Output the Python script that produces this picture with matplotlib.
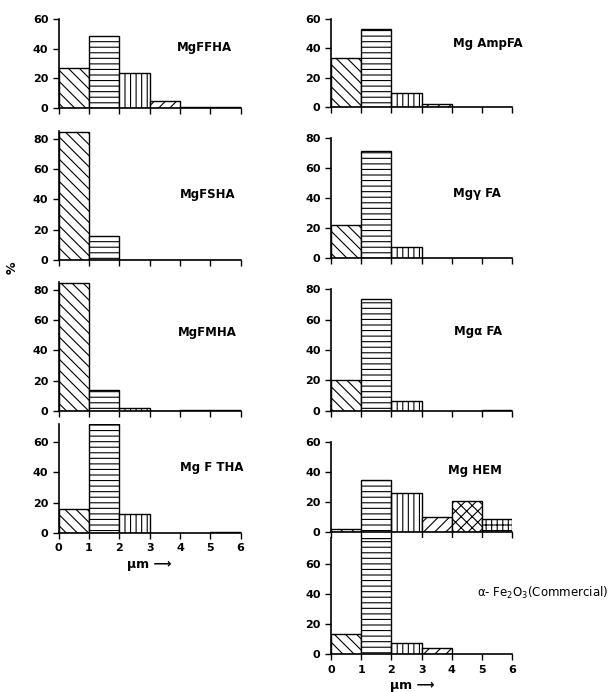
import numpy as np
import matplotlib
matplotlib.use("Agg")
from matplotlib import pyplot as plt

plt.rcParams['font.family'] = ['DejaVu Sans']
plt.rcParams['hatch.linewidth'] = 0.8

# size classes (um), left edge of each 1-um bin
bins = [0, 1, 2, 3, 4, 5]

# % of particles in each bin
mgffha = [27, 48.5, 23.5, 5, 0.4, 0.4]
mgfsha = [84.5, 16, 0.3, 0.3, 0.3, 0.3]
mgfmha = [84.5, 14, 2.2, 0.3, 0.4, 0.4]
mgftha = [16, 72, 12.3, 0, 0, 0.3]
mgampfa = [33.5, 53.5, 9.7, 2.6, 0, 0]
mggfa = [22, 71.5, 7.3, 0, 0.3, 0]
mgafa = [20.5, 73.8, 6.6, 0, 0, 0.5]
mghem = [2, 34.8, 26.2, 10.4, 20.9, 8.9]
fe2o3 = [13.6, 77, 7.6, 4.3, 0, 0]

hatches = ['\\\\\\', '---', '|||', '///', 'xxx', '+++']

# name, values, ylim top, yticks, label position, axes rect
panels = [
    ("MgFFHA", mgffha, 60, [0, 20, 40, 60], (4.82, 40.5), [0.0965, 0.8439, 0.2993, 0.1286]),
    ("MgFSHA", mgfsha, 85, [0, 20, 40, 60, 80], (4.9, 43), [0.0965, 0.6243, 0.2993, 0.1858]),
    ("MgFMHA", mgfmha, 85, [0, 20, 40, 60, 80], (4.9, 52), [0.0965, 0.4061, 0.2993, 0.1858]),
    ("Mg F THA", mgftha, 72, [0, 20, 40, 60], (5.05, 43), [0.0965, 0.2302, 0.2993, 0.1566]),
    ("Mg AmpFA", mgampfa, 60, [0, 20, 40, 60], (5.2, 43.7), [0.5444, 0.8449, 0.2982, 0.1276]),
    ("Mg\u03b3 FA", mggfa, 80, [0, 20, 40, 60, 80], (4.83, 43.5), [0.5444, 0.6267, 0.2982, 0.1734]),
    ("Mg\u03b1 FA", mgafa, 80, [0, 20, 40, 60, 80], (4.87, 52.5), [0.5444, 0.4065, 0.2982, 0.1754]),
    ("Mg HEM", mghem, 60, [0, 20, 40, 60], (4.77, 40.9), [0.5444, 0.2308, 0.2982, 0.1301]),
    (None, fe2o3, 77, [0, 20, 40, 60], (4.83, 40.6), [0.5444, 0.0545, 0.2982, 0.168]),
]

fig = plt.figure(figsize=(6.08, 6.92), dpi=100)

for i, (name, vals, ytop, yt, pos, rect) in enumerate(panels):
    ax = fig.add_axes(rect)
    for b, v, h in zip(bins, vals, hatches):
        if v > 0:
            ax.bar(b, v, width=1, align='edge', color='white', edgecolor='black',
                   linewidth=1.0, hatch=h)
    ax.set_xlim(0, 6)
    ax.set_ylim(0, ytop)
    ax.set_yticks(yt)
    ax.set_xticks(range(7))
    ax.spines['top'].set_visible(False)
    ax.spines['right'].set_visible(False)
    ax.spines['left'].set_linewidth(1.2)
    ax.spines['bottom'].set_linewidth(1.2)
    ax.tick_params(axis='both', direction='out', length=4, width=1, labelsize=8)
    for lab in ax.get_yticklabels():
        lab.set_fontweight('bold')
    if i in (3, 8):
        ax.set_xticklabels([str(k) for k in range(7)], fontweight='bold')
        ax.text(3.0 if i == 3 else 2.7, -21, "\u03bcm \u27f6",
                ha='center', va='center', fontsize=9, fontweight='bold')
    else:
        ax.set_xticklabels([])
    if name is not None:
        ax.text(pos[0], pos[1], name, ha='center', va='center', fontsize=8.5,
                fontweight='bold')
    else:
        ax.text(pos[0], pos[1], '\u03b1- Fe$_2$O$_3$(Commercial)', ha='left',
                va='center', fontsize=8.5, clip_on=False)

fig.text(0.02, 0.613, "%", rotation=90, ha='center', va='center', fontsize=9,
         fontweight='bold')

fig.savefig("out.png", dpi=100)
